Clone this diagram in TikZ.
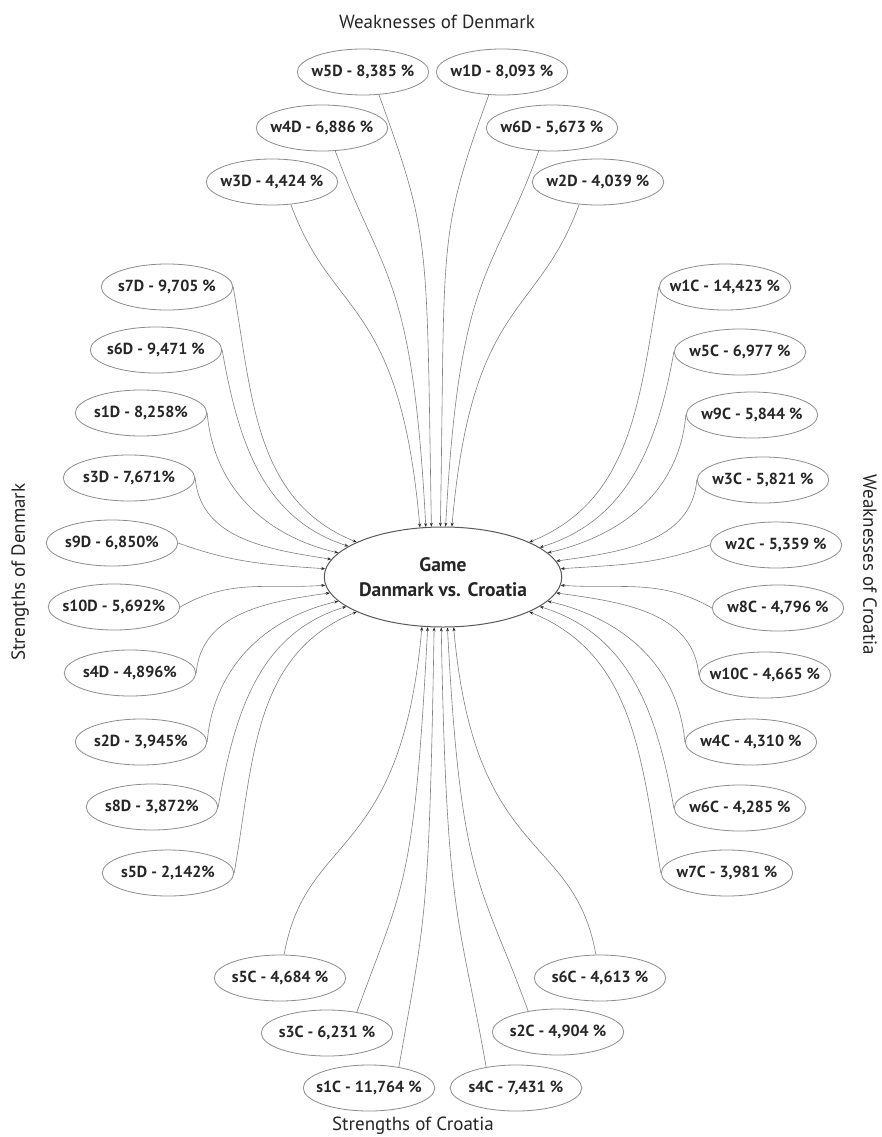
\documentclass[tikz,border=0pt]{standalone}
\usepackage{fontspec}
\setmainfont{PT Sans}
\usetikzlibrary{arrows.meta,shapes.geometric}
\newcommand{\lbx}[1]{\hbox to 93pt{\hss#1\hss}}
\begin{document}
\begin{tikzpicture}[x=1pt,y=-1pt,
  lab/.style={ellipse,draw=black!45,line width=0.8pt,minimum width=131pt,minimum height=46pt,inner sep=0pt,font=\fontsize{16}{19}\selectfont\bfseries,text=black!85},
  hub/.style={ellipse,draw=black!65,line width=1pt,minimum width=212pt,minimum height=100pt,inner sep=0pt,align=center,font=\fontsize{19.5}{25}\selectfont\bfseries,text=black!85},
  ttl/.style={font=\fontsize{19}{22}\selectfont,text=black!85},
  conn/.style={draw=black!50,line width=0.6pt,-{Stealth[length=4pt,width=3pt,color=black!85]}},
  vconn/.style={conn,in looseness=1.7,out looseness=0.9}
]
\useasboundingbox (0,0) rectangle (882,1137);
\fill[white] (0,0) rectangle (882,1137);

% titles
\node[ttl] (tTop) at (437,22) {Weaknesses of Denmark};
\node[ttl] (tBot) at (413,1126) {Strengths of Croatia};
\node[ttl,rotate=90] (tLeft) at (20,572) {Strengths of Denmark};
\node[ttl,rotate=-90] (tRight) at (870,565) {Weaknesses of Croatia};

% hub
\node[hub] (hub) at (443,577) {Game\\Danmark vs. Croatia};

% top
\node[lab] (w5D) at (363,72) {\lbx{w5D - 8,385 \%}};
\node[lab] (w1D) at (502,72) {\lbx{w1D - 8,093 \%}};
\node[lab] (w4D) at (322,128) {\lbx{w4D - 6,886 \%}};
\node[lab] (w6D) at (552,128) {\lbx{w6D - 5,673 \%}};
\node[lab] (w3D) at (272,182) {\lbx{w3D - 4,424 \%}};
\node[lab] (w2D) at (598,182) {\lbx{w2D - 4,039 \%}};

% left
\node[lab] (s7D) at (167,287) {\lbx{s7D - 9,705 \%}};
\node[lab] (s6D) at (156,350) {\lbx{s6D - 9,471 \%}};
\node[lab] (s1D) at (141,413) {\lbx{s1D - 8,258\%}};
\node[lab] (s3D) at (129,478) {\lbx{s3D - 7,671\%}};
\node[lab] (s9D) at (112,543) {\lbx{s9D - 6,850\%}};
\node[lab] (s10D) at (114,607) {\lbx{s10D - 5,692\%}};
\node[lab] (s4D) at (130,673) {\lbx{s4D - 4,896\%}};
\node[lab] (s2D) at (141,742) {\lbx{s2D - 3,945\%}};
\node[lab] (s8D) at (152,807) {\lbx{s8D - 3,872\%}};
\node[lab] (s5D) at (168,873) {\lbx{s5D - 2,142\%}};

% right
\node[lab] (w1C) at (725,287) {\lbx{w1C - 14,423 \%}};
\node[lab] (w5C) at (740,352) {\lbx{w5C - 6,977 \%}};
\node[lab] (w9C) at (752,415) {\lbx{w9C - 5,844 \%}};
\node[lab] (w3C) at (763,480) {\lbx{w3C - 5,821 \%}};
\node[lab] (w2C) at (776,545) {\lbx{w2C - 5,359 \%}};
\node[lab] (w8C) at (778,608) {\lbx{w8C - 4,796 \%}};
\node[lab] (w10C) at (765,675) {\lbx{w10C - 4,665 \%}};
\node[lab] (w4C) at (751,742) {\lbx{w4C - 4,310 \%}};
\node[lab] (w6C) at (740,808) {\lbx{w6C - 4,285 \%}};
\node[lab] (w7C) at (727,873) {\lbx{w7C - 3,981 \%}};

% bottom
\node[lab] (s5C) at (280,978) {\lbx{s5C - 4,684 \%}};
\node[lab] (s3C) at (327,1033) {\lbx{s3C - 6,231 \%}};
\node[lab] (s1C) at (369,1088) {\lbx{s1C - 11,764 \%}};
\node[lab] (s4C) at (516,1088) {\lbx{s4C - 7,431 \%}};
\node[lab] (s2C) at (558,1032) {\lbx{s2C - 4,904 \%}};
\node[lab] (s6C) at (600,978) {\lbx{s6C - 4,613 \%}};

% connectors top
\draw[vconn] (w3D.-50) to[out=-70,in=95] (hub.115);
\draw[vconn] (w4D.-60) to[out=-70,in=93] (hub.109);
\draw[vconn] (w5D.-55) to[out=-70,in=91] (hub.103);
\draw[vconn] (w1D.-120) to[out=-110,in=89] (hub.93);
\draw[vconn] (w6D.-120) to[out=-110,in=87] (hub.87);
\draw[vconn] (w2D.-130) to[out=-110,in=85] (hub.80);

% connectors left
\draw[conn] (s7D.east) to[out=-80,in=158] (hub.158);
\draw[conn] (s6D.east) to[out=-80,in=162] (hub.162.5);
\draw[conn] (s1D.east) to[out=-85,in=167] (hub.167);
\draw[conn] (s3D.east) to[out=-85,in=171] (hub.171.5);
\draw[conn] (s9D.east) to[out=-20,in=176] (hub.176);
\draw[conn] (s10D.east) to[out=30,in=184] (hub.184);
\draw[conn] (s4D.east) to[out=85,in=188] (hub.188.5);
\draw[conn] (s2D.east) to[out=85,in=193] (hub.193);
\draw[conn] (s8D.east) to[out=80,in=197] (hub.197.5);
\draw[conn] (s5D.east) to[out=80,in=202] (hub.202);

% connectors right
\draw[conn] (w1C.west) to[out=-100,in=22] (hub.22);
\draw[conn] (w5C.west) to[out=-100,in=17] (hub.17.5);
\draw[conn] (w9C.west) to[out=-95,in=13] (hub.13);
\draw[conn] (w3C.west) to[out=-95,in=8] (hub.8.5);
\draw[conn] (w2C.west) to[out=-160,in=4] (hub.4);
\draw[conn] (w8C.west) to[out=150,in=-4] (hub.-4);
\draw[conn] (w10C.west) to[out=95,in=-8] (hub.-8.5);
\draw[conn] (w4C.west) to[out=95,in=-13] (hub.-13);
\draw[conn] (w6C.west) to[out=100,in=-17] (hub.-17.5);
\draw[conn] (w7C.west) to[out=100,in=-22] (hub.-22);

% connectors bottom
\draw[vconn] (s5C.80) to[out=80,in=-95] (hub.-113);
\draw[vconn] (s3C.35) to[out=70,in=-93] (hub.-107);
\draw[vconn] (s1C.35) to[out=80,in=-91] (hub.-100);
\draw[vconn] (s4C.145) to[out=100,in=-89] (hub.-92);
\draw[vconn] (s2C.145) to[out=110,in=-87] (hub.-85);
\draw[vconn] (s6C.100) to[out=100,in=-85] (hub.-78);
\end{tikzpicture}
\end{document}
